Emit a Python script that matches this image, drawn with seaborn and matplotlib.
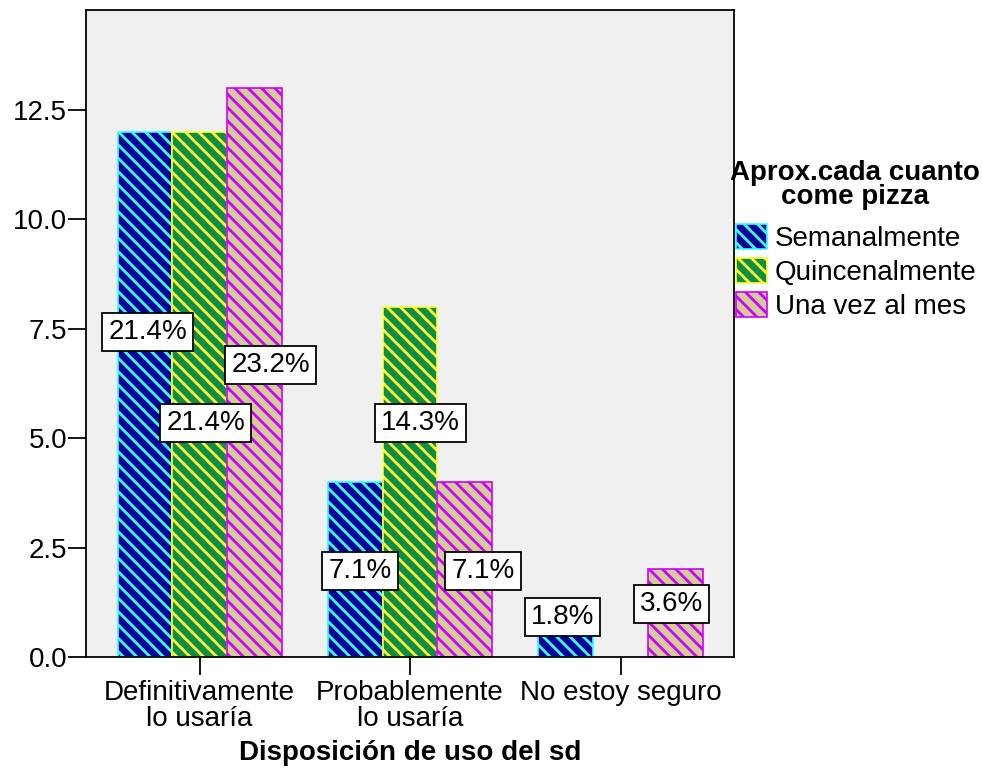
import pandas as pd
import matplotlib.pyplot as plt
import matplotlib.patches as mpatches
import seaborn as sns

# --- data ---
categories = ["Definitivamente\nlo usaría", "Probablemente\nlo usaría", "No estoy seguro"]
freqs = ["Semanalmente", "Quincenalmente", "Una vez al mes"]
semanal = [12, 4, 0.5]
quincenal = [12, 8, 0]
mensual = [13, 4, 2]
pct_semanal = ["21.4%", "7.1%", "1.8%"]
pct_quincenal = ["21.4%", "14.3%", ""]
pct_mensual = ["23.2%", "7.1%", "3.6%"]

# where the % boxes sit (height, shift from bar centre)
lab_y = [[7.43, 1.97, 0.91], [5.35, 5.35, 0], [6.67, 1.97, 1.21]]
lab_dx = [[0.013, 0.022, -0.016], [0.029, 0.048, 0], [0.077, 0.087, -0.018]]

face_colors = ["#000099", "#0f8c46", "#d3cc96"]
hatch_colors = ["#33ffff", "#ffff33", "#cc00ff"]
HATCH = "\\\\"

df = pd.DataFrame({
    "cat": categories * 3,
    "freq": [f for f in freqs for _ in categories],
    "count": semanal + quincenal + mensual,
})
pcts = [pct_semanal, pct_quincenal, pct_mensual]

sns.set_theme(style="ticks")
plt.rcParams["font.family"] = ["Liberation Sans", "DejaVu Sans"]
plt.rcParams["text.color"] = "black"
plt.rcParams["axes.labelcolor"] = "black"
plt.rcParams["hatch.linewidth"] = 2.5

# dpi 80 so the hatch spacing matches the original stripes
DPI = 80
FS = 25
fig = plt.figure(figsize=(982 / DPI, 769 / DPI), dpi=DPI)
ax = fig.add_axes([0.0876, 0.1456, 0.66, 0.8414])
ax.set_facecolor("#f0f0f0")

sns.barplot(data=df, x="cat", y="count", hue="freq", order=categories,
            hue_order=freqs, palette=face_colors, saturation=1,
            width=0.78, gap=0, legend=False, ax=ax)

for i, cont in enumerate(ax.containers):
    for j, bar in enumerate(cont):
        bar.set_hatch(HATCH)
        bar.set_edgecolor(hatch_colors[i])
        bar.set_linewidth(1.5 if bar.get_height() > 0 else 0)
        if pcts[i][j]:
            x = bar.get_x() + bar.get_width() / 2 + lab_dx[i][j]
            ax.text(x, lab_y[i][j], pcts[i][j], ha="center", va="center",
                    fontsize=FS, color="black", zorder=5,
                    bbox=dict(boxstyle="square,pad=0.22", fc="white",
                              ec="black", lw=1.6))

ax.set_xlim(-0.54, 2.54)
ax.set_ylim(0, 14.78)
ax.set_yticks([0, 2.5, 5, 7.5, 10, 12.5])
ax.set_yticklabels(["0.0", "2.5", "5.0", "7.5", "10.0", "12.5"])
ax.set_xticks(range(3))
ax.set_xticklabels(categories, linespacing=1.0)
ax.tick_params(axis="both", colors="black", labelsize=FS, length=16,
               width=1.6, pad=1)
ax.tick_params(axis="x", pad=5)
ax.set_ylabel("")
ax.set_xlabel("Disposición de uso del sd", fontsize=FS, fontweight="bold",
              labelpad=7)
for s in ax.spines.values():
    s.set_visible(True)
    s.set_color("black")
    s.set_linewidth(1.6)

# legend title drawn on its own so it can be centred above the keys
fig.text(855 / 982, 1 - 185 / 769, "Aprox.cada cuanto\ncome pizza",
         ha="center", va="center", multialignment="center",
         fontsize=FS, fontweight="bold", linespacing=0.95)

handles = [mpatches.Patch(facecolor=face_colors[k], edgecolor=hatch_colors[k],
                          hatch=HATCH, linewidth=1.5, label=freqs[k])
           for k in range(3)]
fig.legend(handles=handles, loc="upper left", bbox_to_anchor=(0.7495, 0.709),
           frameon=False, fontsize=FS, handlelength=1.1, handleheight=1.0,
           handletextpad=0.3, labelspacing=0.22, borderpad=0, borderaxespad=0)

fig.savefig("out.png", dpi=DPI)
